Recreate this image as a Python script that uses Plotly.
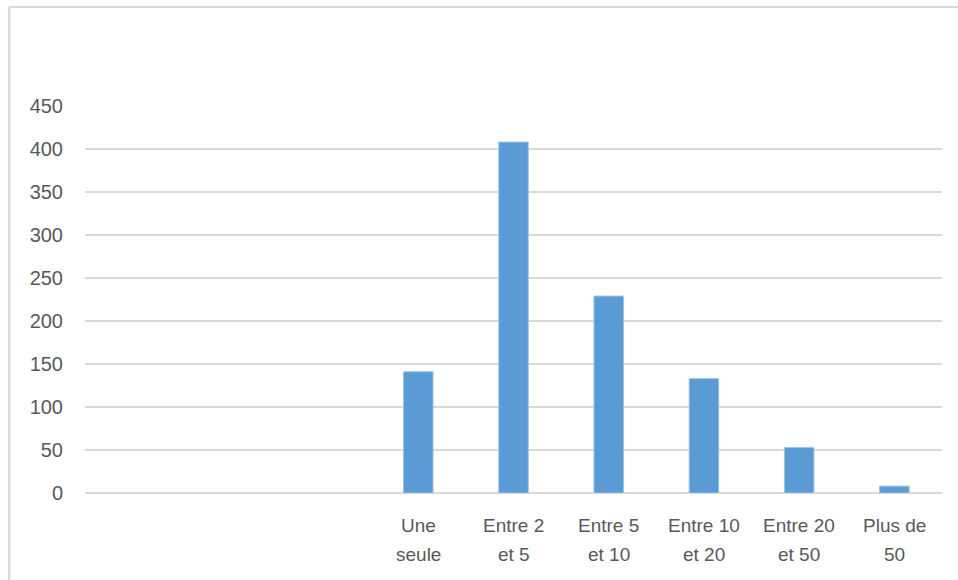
import plotly.graph_objects as go

# Nombre de ... par tranche (les trois premiers emplacements sont vides)
positions = list(range(9))
label_line1 = ["", "", "", "Une", "Entre 2", "Entre 5", "Entre 10", "Entre 20", "Plus de"]
label_line2 = ["", "", "", "seule", "et 5", "et 10", "et 20", "et 50", "50"]
values = [None, None, None, 141, 408, 229, 133, 53, 8]
y_ticks = [0, 50, 100, 150, 200, 250, 300, 350, 400, 450]

BAR = "#5B9BD5"
GRID = "#D9D9D9"
TEXT = "#595959"
FONT = "Liberation Sans"

fig = go.Figure(
    go.Bar(
        x=positions,
        y=values,
        marker=dict(color=BAR, line=dict(color="#9DC3E6", width=1)),
        hoverinfo="skip",
    )
)

# two-line category labels under each slot, with a looser line spacing
annotations = []
for pos, first, second in zip(positions, label_line1, label_line2):
    for text, shift in ((first, -32), (second, -61)):
        if text:
            annotations.append(dict(
                x=pos, xref="x", y=0, yref="paper",
                text=text, showarrow=False,
                xanchor="center", yanchor="middle", yshift=shift,
                font=dict(family=FONT, size=19, color=TEXT),
            ))

fig.update_layout(
    width=958,
    height=580,
    margin=dict(l=85, r=16, t=106, b=87),
    paper_bgcolor="white",
    plot_bgcolor="white",
    bargap=0.69,
    showlegend=False,
    font=dict(family=FONT, size=19, color=TEXT),
    annotations=annotations,
    # light chart-area frame along the top and left edges
    shapes=[
        dict(type="line", xref="paper", yref="paper",
             x0=-0.0885, x1=1.03, y0=1.2557, y1=1.2557,
             line=dict(color=GRID, width=2)),
        dict(type="line", xref="paper", yref="paper",
             x0=-0.0885, x1=-0.0885, y0=1.2557, y1=-0.3,
             line=dict(color=GRID, width=2.5)),
    ],
)

fig.update_xaxes(
    range=[-0.5, 8.5],
    tickmode="array",
    tickvals=positions,
    showticklabels=False,
    showgrid=False,
    showline=False,
    zeroline=False,
    ticks="",
)

fig.update_yaxes(
    range=[0, 450],
    tickmode="array",
    tickvals=y_ticks,
    showgrid=True,
    gridcolor=GRID,
    gridwidth=1.5,
    zeroline=True,
    zerolinecolor=GRID,
    zerolinewidth=1.5,
    showline=False,
    ticks="",
    ticklabelstandoff=21,
    tickfont=dict(family=FONT, size=20, color=TEXT),
)

fig.write_html("out.html")
